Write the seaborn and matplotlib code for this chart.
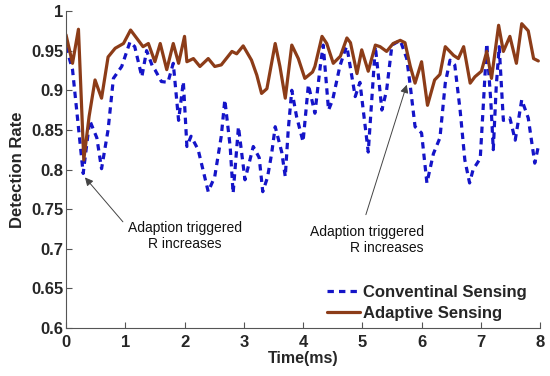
import matplotlib
matplotlib.use("Agg")
import matplotlib.pyplot as plt
import seaborn as sns

# values
adaptive_t = [0.00, 0.11, 0.21, 0.30, 0.39, 0.49, 0.60, 0.71, 0.83, 0.97,
              1.09, 1.22, 1.30, 1.39, 1.50, 1.59, 1.70, 1.81, 1.90, 2.00,
              2.04, 2.15, 2.26, 2.40, 2.51, 2.62, 2.80, 2.88, 2.99, 3.13,
              3.22, 3.30, 3.39, 3.53, 3.61, 3.70, 3.81, 3.92, 4.03, 4.16,
              4.20, 4.32, 4.40, 4.51, 4.63, 4.74, 4.80, 4.91, 4.99, 5.10,
              5.22, 5.30, 5.41, 5.52, 5.64, 5.72, 5.81, 5.89, 6.00, 6.10,
              6.22, 6.31, 6.40, 6.54, 6.62, 6.71, 6.82, 6.90, 7.01, 7.10,
              7.18, 7.30, 7.38, 7.49, 7.60, 7.69, 7.80, 7.89, 7.97]
adaptive_rate = [0.970, 0.934, 0.977, 0.812, 0.867, 0.913, 0.890, 0.942, 0.953, 0.959,
                 0.976, 0.963, 0.955, 0.959, 0.936, 0.959, 0.926, 0.959, 0.934, 0.968,
                 0.936, 0.940, 0.930, 0.940, 0.930, 0.932, 0.949, 0.946, 0.956, 0.938,
                 0.919, 0.896, 0.902, 0.959, 0.930, 0.890, 0.957, 0.940, 0.915, 0.923,
                 0.930, 0.968, 0.959, 0.934, 0.943, 0.966, 0.960, 0.921, 0.951, 0.924,
                 0.957, 0.955, 0.949, 0.959, 0.963, 0.960, 0.930, 0.909, 0.936, 0.881,
                 0.913, 0.920, 0.955, 0.944, 0.940, 0.955, 0.909, 0.917, 0.924, 0.949,
                 0.915, 0.982, 0.949, 0.968, 0.934, 0.984, 0.975, 0.940, 0.937]

conv_t = [0.00, 0.11, 0.29, 0.40, 0.52, 0.60, 0.71, 0.80, 0.94, 1.08,
          1.16, 1.28, 1.36, 1.46, 1.50, 1.61, 1.72, 1.81, 1.90, 1.98,
          2.04, 2.11, 2.23, 2.40, 2.51, 2.62, 2.68, 2.77, 2.82, 2.91,
          3.02, 3.16, 3.26, 3.32, 3.40, 3.47, 3.53, 3.64, 3.70, 3.75,
          3.81, 3.89, 4.00, 4.09, 4.20, 4.29, 4.34, 4.43, 4.50, 4.62,
          4.71, 4.74, 4.88, 4.96, 5.10, 5.22, 5.29, 5.33, 5.41, 5.50,
          5.64, 5.75, 5.81, 5.89, 6.00, 6.09, 6.20, 6.31, 6.40, 6.48,
          6.56, 6.65, 6.73, 6.81, 6.87, 6.99, 7.04, 7.10, 7.17, 7.21,
          7.26, 7.31, 7.38, 7.49, 7.58, 7.69, 7.80, 7.91, 7.97]
conv_rate = [0.955, 0.926, 0.795, 0.862, 0.840, 0.801, 0.850, 0.915, 0.930, 0.961,
             0.955, 0.917, 0.950, 0.930, 0.926, 0.911, 0.910, 0.934, 0.862, 0.911,
             0.829, 0.842, 0.825, 0.772, 0.791, 0.842, 0.888, 0.829, 0.770, 0.854,
             0.787, 0.829, 0.815, 0.772, 0.790, 0.820, 0.854, 0.822, 0.791, 0.850,
             0.900, 0.867, 0.835, 0.907, 0.871, 0.930, 0.957, 0.875, 0.888, 0.930,
             0.951, 0.955, 0.892, 0.910, 0.822, 0.955, 0.905, 0.875, 0.900, 0.957,
             0.963, 0.940, 0.905, 0.854, 0.846, 0.783, 0.820, 0.840, 0.909, 0.938,
             0.932, 0.875, 0.812, 0.783, 0.800, 0.814, 0.879, 0.959, 0.884, 0.825,
             0.905, 0.955, 0.862, 0.865, 0.837, 0.888, 0.865, 0.808, 0.829]

x_ticks = [0, 1, 2, 3, 4, 5, 6, 7, 8]
y_ticks = [0.6, 0.65, 0.7, 0.75, 0.8, 0.85, 0.9, 0.95, 1.0]
y_tick_labels = ["0.6", "0.65", "0.7", "0.75", "0.8", "0.85", "0.9", "0.95", "1"]

sns.set_style("ticks")
plt.rcParams["font.family"] = ["Liberation Sans", "DejaVu Sans"]

fig = plt.figure(figsize = (5.5, 3.76), dpi = 100)
ax = fig.add_axes([0.12, 0.1277, 0.862, 0.843])

sns.lineplot(x = conv_t, y = conv_rate, ax = ax, sort = False, color = "#1414c8",
             linewidth = 2.3, linestyle = (0, (2.0, 1.6)), label = "Conventinal Sensing")
sns.lineplot(x = adaptive_t, y = adaptive_rate, ax = ax, sort = False, color = "#8c3c18",
             linewidth = 2.3, label = "Adaptive Sensing")

ax.set_xlim(0, 8)
ax.set_ylim(0.6, 1.0)
ax.set_xticks(x_ticks)
ax.set_xticklabels([str(v) for v in x_ticks])
ax.set_yticks(y_ticks)
ax.set_yticklabels(y_tick_labels)
ax.tick_params(direction = "in", length = 4, width = 0.8, color = "#555555")
ax.tick_params(axis = "x", pad = 5)
ax.tick_params(axis = "y", pad = 2)
for lab in ax.get_xticklabels() + ax.get_yticklabels():
    lab.set_fontsize(12)
    lab.set_fontweight("bold")
for side in ["top", "right"]:
    ax.spines[side].set_visible(False)
for side in ["left", "bottom"]:
    ax.spines[side].set_color("#555555")
    ax.spines[side].set_linewidth(0.8)

ax.set_xlabel("Time(ms)", fontsize = 11.5, fontweight = "bold", labelpad = 1)
ax.set_ylabel("Detection Rate", fontsize = 12, fontweight = "bold", labelpad = 4)

# annotations
ax.annotate("", xy = (0.32, 0.79), xytext = (0.96, 0.734),
            arrowprops = dict(arrowstyle = "-|>", color = "#444444", lw = 0.7,
                              shrinkA = 0, shrinkB = 0, mutation_scale = 12))
ax.text(2.0, 0.716, "Adaption triggered\nR increases", fontsize = 10, ha = "center",
        va = "center", multialignment = "center", color = "#111111")
ax.annotate("", xy = (5.75, 0.907), xytext = (5.06, 0.743),
            arrowprops = dict(arrowstyle = "-|>", color = "#444444", lw = 0.7,
                              shrinkA = 0, shrinkB = 0, mutation_scale = 12))
ax.text(6.04, 0.711, "Adaption triggered\nR increases", fontsize = 10, ha = "right",
        va = "center", multialignment = "right", color = "#111111")

leg = ax.legend(loc = "lower right", frameon = False, handlelength = 2.0, handletextpad = 0.15,
                borderaxespad = 0.0, labelspacing = 0.4, bbox_to_anchor = (0.985, 0.0),
                prop = {"size": 12, "weight": "bold"})

fig.savefig("out.png", dpi = 100)
